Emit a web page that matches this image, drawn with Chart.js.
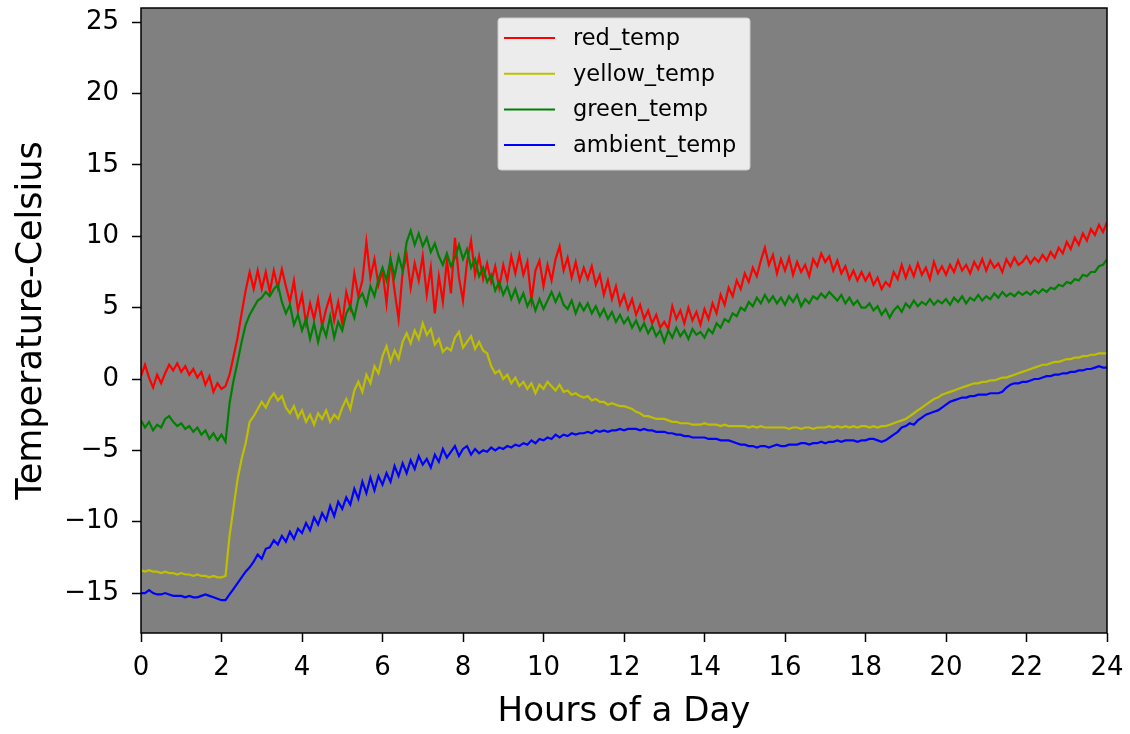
<!DOCTYPE html>
<html lang="en">
<head>
  <meta charset="UTF-8">
  <title>Temperatures over a day</title>
  <script src="https://cdn.jsdelivr.net/npm/chart.js"></script>
  <style>
    body { margin: 0; background: #ffffff; }
    canvas { display: block; }
  </style>
</head>
<body>
  <canvas id="tempChart" width="1130" height="734"></canvas>

  <script>
    // samples every 0.1 h, 0..24
    const hours = Array.from({ length: 241 }, (_, i) => i / 10);

    const redTemp = [
      0.2, 1.0, 0.1, -0.6, 0.3, -0.3, 0.4, 1.0, 0.6, 1.1,
      0.5, 0.9, 0.3, 0.7, 0.1, 0.5, -0.4, 0.2, -0.9, -0.3,
      -0.7, -0.5, 0.3, 1.6, 2.9, 4.6, 6.2, 7.5, 6.3, 7.6,
      6.3, 7.5, 6.1, 7.6, 6.4, 7.7, 6.5, 5.4, 6.9, 4.8,
      5.9, 3.9, 5.3, 4.2, 5.6, 3.7, 4.9, 5.8, 4.1, 5.4,
      3.9, 6.1, 5.0, 7.4, 5.8, 6.9, 9.6, 7.1, 8.4, 6.6,
      7.6, 5.3, 8.4, 6.2, 4.2, 7.5, 8.7, 6.4, 8.1, 6.9,
      8.6, 5.9, 7.8, 4.6, 7.2, 5.4, 8.3, 6.0, 9.9, 7.1,
      5.5, 8.2, 9.7, 7.3, 8.6, 7.0, 8.1, 6.8, 7.9, 6.4,
      8.0, 6.9, 8.6, 7.4, 8.7, 7.3, 8.2, 5.5, 7.6, 8.3,
      6.5, 8.0, 6.9, 8.4, 9.3, 7.6, 8.5, 7.1, 8.2, 6.9,
      7.8, 7.0, 7.9, 6.6, 7.3, 5.9, 6.9, 5.6, 6.5, 5.2,
      5.9, 4.9, 5.6, 4.5, 5.2, 4.2, 4.8, 3.9, 4.5, 3.6,
      4.0, 3.5, 5.1, 4.2, 4.8, 3.9, 5.0, 4.1, 4.7, 3.8,
      4.9, 4.2, 5.3, 4.6, 5.9, 5.2, 6.4, 5.8, 6.9, 6.3,
      7.4, 6.8, 7.8, 7.2, 8.3, 9.2, 8.0, 8.7, 7.4, 8.4,
      7.6, 8.5, 7.3, 8.2, 7.5, 8.0, 7.2, 8.4, 7.9, 8.8,
      8.2, 8.6, 7.6, 8.3, 7.4, 7.9, 7.0, 7.6, 6.9, 7.5,
      6.9, 7.4, 6.6, 7.1, 6.3, 6.8, 6.5, 7.5, 7.0, 8.0,
      7.1, 7.9, 7.2, 8.1, 7.3, 7.8, 7.0, 8.2, 7.4, 7.9,
      7.3, 8.0, 7.5, 8.3, 7.6, 8.0, 7.4, 8.2, 7.7, 8.4,
      7.6, 8.3, 7.8, 8.1, 7.5, 8.4, 7.9, 8.5, 8.0, 8.2,
      8.6, 8.1, 8.5, 8.2, 8.7, 8.3, 8.9, 8.5, 9.2, 8.8,
      9.6, 9.1, 9.9, 9.4, 10.2, 9.7, 10.5, 10.1, 10.8, 10.3,
      11.0
    ];

    const yellowTemp = [
      -13.4, -13.5, -13.4, -13.5, -13.5, -13.6, -13.5, -13.6, -13.6, -13.7,
      -13.6, -13.7, -13.7, -13.8, -13.7, -13.8, -13.8, -13.9, -13.8, -13.9,
      -13.9, -13.8, -11.0, -9.0, -7.0, -5.6, -4.5, -3.0, -2.6, -2.1,
      -1.6, -2.0, -1.4, -1.0, -1.5, -1.2, -2.0, -2.4, -1.9, -2.7,
      -2.2, -3.0, -2.5, -3.2, -2.4, -2.8, -2.2, -3.0, -2.5, -2.8,
      -2.0, -1.4, -2.1, -0.8, -0.2, -0.9, 0.3, -0.3, 0.9, 0.4,
      1.6, 2.3, 1.2, 2.0, 1.4, 2.6, 3.2, 2.5, 3.4, 2.8,
      3.9, 3.1, 3.5, 2.4, 2.8, 1.9, 2.2, 2.0, 2.9, 3.3,
      2.2, 2.6, 3.0, 2.1, 2.6, 2.0, 1.8, 0.9, 0.4, 0.6,
      0.0, 0.3, -0.3, 0.1, -0.5, -0.2, -0.7, -0.3, -1.0, -0.4,
      -0.7, -0.2, -0.5, -0.8, -0.4, -0.9, -0.8, -1.1, -1.0, -1.2,
      -1.3, -1.2, -1.5, -1.4, -1.6, -1.6, -1.8, -1.7, -1.8, -1.9,
      -1.9, -2.0, -2.1, -2.3, -2.4, -2.6, -2.6, -2.7, -2.8, -2.8,
      -2.8, -2.9, -3.0, -3.0, -3.1, -3.1, -3.1, -3.2, -3.2, -3.2,
      -3.1, -3.2, -3.2, -3.2, -3.3, -3.2, -3.3, -3.3, -3.3, -3.3,
      -3.3, -3.4, -3.3, -3.4, -3.3, -3.4, -3.4, -3.4, -3.4, -3.4,
      -3.4, -3.5, -3.4, -3.4, -3.5, -3.4, -3.4, -3.5, -3.4, -3.4,
      -3.4, -3.3, -3.4, -3.3, -3.4, -3.3, -3.4, -3.3, -3.4, -3.3,
      -3.3, -3.4, -3.3, -3.4, -3.3, -3.3, -3.2, -3.1, -3.0, -2.9,
      -2.8, -2.6, -2.4, -2.2, -2.0, -1.8, -1.6, -1.4, -1.3, -1.1,
      -1.0, -0.9, -0.8, -0.7, -0.6, -0.5, -0.4, -0.3, -0.3, -0.2,
      -0.2, -0.1, -0.1, 0.0, 0.1, 0.1, 0.2, 0.3, 0.4, 0.5,
      0.6, 0.7, 0.8, 0.9, 1.0, 1.0, 1.1, 1.2, 1.2, 1.3,
      1.4, 1.4, 1.5, 1.5, 1.6, 1.6, 1.7, 1.7, 1.8, 1.8,
      1.8
    ];

    const greenTemp = [
      -2.9, -3.4, -3.0, -3.6, -3.2, -3.4, -2.8, -2.6, -3.0, -3.3,
      -3.1, -3.5, -3.3, -3.7, -3.4, -3.9, -3.6, -4.2, -3.8, -4.3,
      -3.9, -4.4, -1.7, -0.1, 1.2, 2.6, 3.8, 4.5, 5.0, 5.5,
      5.7, 6.1, 5.8, 6.3, 6.6, 5.4, 4.6, 5.2, 3.8, 4.5,
      3.4, 4.2, 2.8, 3.9, 2.6, 3.8, 3.0, 4.4, 2.9, 4.0,
      3.4, 4.6, 5.1, 4.3, 5.6, 6.0, 5.2, 6.5, 5.8, 7.0,
      7.8, 6.9, 8.4, 7.2, 8.6, 7.6, 9.6, 10.4, 9.4, 10.2,
      9.3, 9.9, 8.9, 9.5, 8.6, 8.0, 8.8, 7.9, 8.5, 9.4,
      8.4, 9.1, 7.8, 8.4, 7.2, 7.8, 6.8, 7.3, 6.2, 6.8,
      5.9, 6.5, 5.6, 6.3, 5.4, 6.0, 5.1, 5.7, 4.8, 5.6,
      4.9, 5.5, 6.1, 5.4, 6.0, 5.2, 4.9, 5.5, 4.6, 5.3,
      4.8, 5.3, 4.6, 5.1, 4.4, 4.9, 4.2, 4.7, 4.0, 4.5,
      3.9, 4.3, 3.6, 4.1, 3.4, 3.9, 3.2, 3.7, 3.0, 3.4,
      2.6, 3.4, 2.9, 3.6, 3.0, 3.4, 2.8, 3.5, 3.1, 3.3,
      2.9, 3.5, 3.2, 3.9, 3.6, 4.2, 4.0, 4.6, 4.4, 5.0,
      4.8, 5.4, 5.1, 5.7, 5.3, 5.9, 5.4, 5.8, 5.3, 5.7,
      5.2, 5.8, 5.4, 5.9, 5.1, 5.6, 5.3, 5.8, 5.6, 6.0,
      5.7, 6.1, 5.8, 5.5, 5.9, 5.3, 5.7, 5.2, 5.5, 5.0,
      5.0, 5.3, 4.8, 5.1, 4.5, 4.9, 4.3, 4.8, 5.1, 4.7,
      5.3, 5.0, 5.5, 5.1, 5.4, 5.2, 5.6, 5.2, 5.5, 5.3,
      5.6, 5.2, 5.7, 5.4, 5.8, 5.3, 5.7, 5.5, 5.9, 5.5,
      5.8, 5.6, 6.0, 5.7, 6.1, 5.8, 6.0, 5.8, 6.1, 5.9,
      6.1, 5.9, 6.2, 6.0, 6.3, 6.1, 6.4, 6.3, 6.6, 6.5,
      6.8, 6.7, 7.0, 6.9, 7.3, 7.2, 7.5, 7.5, 7.9, 8.0,
      8.4
    ];

    const ambientTemp = [
      -15.0, -15.0, -14.8, -15.0, -15.1, -15.1, -15.0, -15.1, -15.2, -15.2,
      -15.2, -15.3, -15.2, -15.3, -15.3, -15.2, -15.1, -15.2, -15.3, -15.4,
      -15.5, -15.5, -15.1, -14.7, -14.3, -13.9, -13.5, -13.2, -12.8, -12.3,
      -12.6, -11.9, -11.8, -11.3, -11.6, -11.0, -11.4, -10.7, -11.2, -10.5,
      -10.8, -10.1, -10.6, -9.7, -10.2, -9.4, -9.9, -8.9, -9.6, -8.6,
      -9.1, -8.3, -8.8, -7.7, -8.4, -7.2, -8.0, -6.9, -7.8, -6.8,
      -7.4, -6.6, -7.2, -6.1, -6.8, -5.9, -6.6, -5.7, -6.3, -5.4,
      -6.0, -5.6, -6.2, -5.3, -5.8, -4.9, -5.5, -5.1, -4.7, -5.4,
      -4.9, -4.7, -5.3, -4.9, -5.2, -5.0, -5.1, -4.8, -5.0, -4.8,
      -4.9, -4.7, -4.8, -4.6, -4.7, -4.5, -4.6, -4.3, -4.5, -4.2,
      -4.3, -4.1, -4.2, -3.9, -4.1, -3.9, -4.0, -3.8, -3.9, -3.8,
      -3.8, -3.7, -3.8, -3.6, -3.7, -3.6, -3.7, -3.6, -3.6, -3.5,
      -3.6, -3.5, -3.5, -3.5, -3.6, -3.5, -3.6, -3.6, -3.7, -3.7,
      -3.7, -3.8, -3.8, -3.9, -3.9, -4.0, -4.0, -4.1, -4.1, -4.1,
      -4.1, -4.2, -4.2, -4.2, -4.3, -4.3, -4.3, -4.4, -4.5, -4.6,
      -4.6, -4.7, -4.7, -4.8, -4.7, -4.7, -4.8, -4.7, -4.6, -4.7,
      -4.7, -4.6, -4.6, -4.6, -4.5, -4.5, -4.6, -4.5, -4.5, -4.4,
      -4.5, -4.4, -4.4, -4.3, -4.4, -4.3, -4.3, -4.3, -4.4, -4.3,
      -4.3, -4.2, -4.2, -4.3, -4.4, -4.3, -4.1, -3.9, -3.7, -3.4,
      -3.3, -3.1, -3.2, -2.9, -2.7, -2.5, -2.4, -2.3, -2.2, -2.0,
      -1.8, -1.6, -1.5, -1.4, -1.3, -1.3, -1.2, -1.2, -1.1, -1.1,
      -1.1, -1.0, -1.0, -1.0, -0.9, -0.6, -0.4, -0.3, -0.3, -0.2,
      -0.2, -0.1, 0.0, 0.0, 0.1, 0.2, 0.2, 0.3, 0.3, 0.4,
      0.4, 0.5, 0.5, 0.6, 0.6, 0.7, 0.7, 0.8, 0.9, 0.8,
      0.8
    ];

    const xTicks = [0, 2, 4, 6, 8, 10, 12, 14, 16, 18, 20, 22, 24];
    const yTicks = [-15, -10, -5, 0, 5, 10, 15, 20, 25];

    const FONT = "'DejaVu Sans', sans-serif";

    function toPoints(values) {
      return values.map((v, i) => ({ x: hours[i], y: v }));
    }

    // gray plot background + black frame
    const plotFrame = {
      id: 'plotFrame',
      beforeDatasetsDraw(chart) {
        const { ctx, chartArea: a } = chart;
        ctx.save();
        ctx.fillStyle = '#808080';
        ctx.fillRect(a.left, a.top, a.right - a.left, a.bottom - a.top);
        ctx.restore();
      },
      afterDraw(chart) {
        const { ctx, chartArea: a } = chart;
        ctx.save();
        ctx.strokeStyle = '#000';
        ctx.lineWidth = 1.5;
        ctx.strokeRect(a.left, a.top, a.right - a.left, a.bottom - a.top);
        ctx.restore();
      }
    };

    // matplotlib-like legend box inside the axes
    const boxLegend = {
      id: 'boxLegend',
      afterDatasetsDraw(chart) {
        const ctx = chart.ctx;
        const x0 = 498, y0 = 18, w = 252, h = 152;
        ctx.save();
        ctx.fillStyle = 'rgba(255,255,255,0.85)';
        ctx.strokeStyle = '#cccccc';
        ctx.lineWidth = 1;
        ctx.beginPath();
        ctx.roundRect(x0, y0, w, h, 3);
        ctx.fill();
        ctx.stroke();
        ctx.font = '22.5px ' + FONT;
        ctx.textBaseline = 'middle';
        ctx.fillStyle = '#000';
        chart.data.datasets.forEach((ds, i) => {
          const y = 38 + i * 35.7;
          ctx.strokeStyle = ds.borderColor;
          ctx.lineWidth = 2;
          ctx.beginPath();
          ctx.moveTo(504, y);
          ctx.lineTo(555, y);
          ctx.stroke();
          ctx.fillText(ds.label, 573, y + 1);
        });
        ctx.restore();
      }
    };

    const ctx = document.getElementById('tempChart').getContext('2d');
    const tempChart = new Chart(ctx, {
      type: 'line',
      data: {
        datasets: [
          { label: 'red_temp', data: toPoints(redTemp), borderColor: '#ff0000', order: 4 },
          { label: 'yellow_temp', data: toPoints(yellowTemp), borderColor: '#bfbf00', order: 3 },
          { label: 'green_temp', data: toPoints(greenTemp), borderColor: '#008000', order: 2 },
          { label: 'ambient_temp', data: toPoints(ambientTemp), borderColor: '#0000ff', order: 1 }
        ]
      },
      options: {
        responsive: false,
        animation: false,
        layout: { padding: { top: 8, right: 23, left: 0, bottom: 0 } },
        elements: {
          point: { radius: 0 },
          line: { borderWidth: 2.2, tension: 0, fill: false }
        },
        plugins: {
          legend: { display: false },
          tooltip: { enabled: false }
        },
        scales: {
          x: {
            type: 'linear',
            min: 0,
            max: 24,
            afterFit: s => { s.height = 101; s.paddingLeft = 0; s.paddingRight = 0; },
            afterBuildTicks: s => { s.ticks = xTicks.map(v => ({ value: v })); },
            border: { display: false },
            grid: { drawOnChartArea: false, drawTicks: true, tickLength: 9, tickColor: '#000', tickWidth: 1.5 },
            ticks: { color: '#000', font: { family: FONT, size: 26 }, padding: 11, maxRotation: 0 },
            title: {
              display: true,
              text: 'Hours of a Day',
              color: '#000',
              font: { family: FONT, size: 34 },
              padding: { top: 0, bottom: 1 }
            }
          },
          y: {
            type: 'linear',
            min: -17.8,
            max: 26,
            afterFit: s => { s.width = 141; s.paddingTop = 0; s.paddingBottom = 0; },
            afterBuildTicks: s => { s.ticks = yTicks.map(v => ({ value: v })); },
            border: { display: false },
            grid: { drawOnChartArea: false, drawTicks: true, tickLength: 9, tickColor: '#000', tickWidth: 1.5 },
            ticks: {
              color: '#000',
              font: { family: FONT, size: 26 },
              padding: 13,
              callback: v => (v < 0 ? '\u2212' + Math.abs(v) : String(v))
            },
            title: {
              display: true,
              text: 'Temperature-Celsius',
              color: '#000',
              font: { family: FONT, size: 35 },
              padding: { top: 11, bottom: 0 }
            }
          }
        }
      },
      plugins: [plotFrame, boxLegend]
    });
  </script>
</body>
</html>
